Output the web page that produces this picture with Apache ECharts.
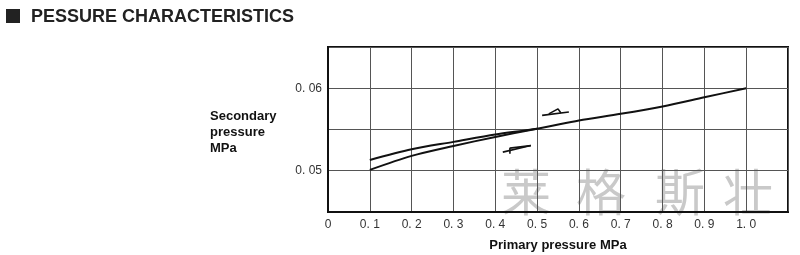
<!DOCTYPE html>
<html><head><meta charset="utf-8">
<script src="https://cdn.jsdelivr.net/npm/echarts@6/dist/echarts.min.js"></script>
<style>html,body{margin:0;padding:0;background:#fff}#c{width:800px;height:255px}</style>
</head><body><div id="c"></div>
<script>
// ---- data ----
const titleText = 'PESSURE CHARACTERISTICS';
const xName = 'Primary pressure MPa';
const yName = 'Secondary\npressure\nMPa';
const watermarkChars = ['莱', '格', '斯', '壮'];
const yTickLabels = [0.05, 0.06];
// decreasing branch (upper) and common part
const upperX = [0.1, 0.2, 0.3, 0.4, 0.5, 0.6, 0.7, 0.8, 0.9, 1.0];
const upperY = [0.0513, 0.0526, 0.0535, 0.0544, 0.0551, 0.0561, 0.0569, 0.0578, 0.0589, 0.0600];
// increasing branch (lower)
const lowerX = [0.1, 0.2, 0.3, 0.4, 0.5];
const lowerY = [0.0501, 0.0518, 0.0530, 0.0541, 0.0551];
// hysteresis direction markers (data coords)
const upArrowShaft = [[0.512, 0.05671], [0.576, 0.05713]];
const upArrowHead = [[0.528, 0.05689], [0.550, 0.05750], [0.557, 0.05701]];
const lowArrowShaft = [[0.418, 0.05226], [0.485, 0.05305]];
const lowArrowHead = [[0.435, 0.05207], [0.435, 0.05274], [0.485, 0.05305]];

const zip = (xs, ys) => xs.map((x, i) => [x, ys[i]]);
const fmtX = v => {
  if (v > 1.05) return '';
  if (Math.abs(v) < 1e-9) return '0';
  return v.toFixed(1).replace('.', '. ');
};
const fmtY = v => yTickLabels.some(t => Math.abs(t - v) < 1e-9) ? v.toFixed(2).replace('.', '. ') : '';

const chart = echarts.init(document.getElementById('c'), null, {renderer: 'canvas'});
const lineStyle = {color: '#111', width: 2};
const markStyle = {color: '#111', width: 1.6};
const mk = (data, ls, smooth) => ({
  type: 'line', data, symbol: 'none', smooth: smooth || false, lineStyle: ls,
  z: 5, silent: true, animation: false
});
const wmCenters = [526, 601, 680, 748];
chart.setOption({
  animation: false,
  backgroundColor: '#fff',
  graphic: [
    {type: 'rect', left: 6, top: 9, shape: {width: 14, height: 14}, style: {fill: '#222'}},
    {type: 'text', left: 31, top: 8, style: {text: titleText, font: 'bold 18px "Liberation Sans", Arial, sans-serif', fill: '#222'}},
    {type: 'text', left: 210, top: 108, style: {text: yName, font: 'bold 13px "Liberation Sans", Arial, sans-serif', fill: '#111', lineHeight: 16}}
  ].concat(watermarkChars.map((ch, i) => ({
    type: 'text', x: wmCenters[i], y: 192, z: -10,
    style: {text: ch, font: '50px "Noto Sans CJK SC"', fill: '#c9c9c9', align: 'center', verticalAlign: 'middle'}
  }))),
  grid: {left: 328, top: 47, width: 460, height: 165, outerBoundsMode: 'none', containLabel: false,
         show: true, borderColor: '#111', borderWidth: 2, backgroundColor: 'transparent'},
  xAxis: {
    type: 'value', min: 0, max: 1.1, interval: 0.1,
    name: xName, nameLocation: 'middle', nameGap: 27,
    nameTextStyle: {fontFamily: '"Liberation Sans", Arial, sans-serif', fontWeight: 'bold', fontSize: 13, color: '#111'},
    axisLine: {show: true, lineStyle: {color: '#111', width: 2}},
    axisTick: {show: false},
    axisLabel: {formatter: fmtX, color: '#333', fontSize: 12, fontFamily: '"Liberation Sans", Arial, sans-serif', margin: 7},
    splitLine: {show: true, lineStyle: {color: '#555', width: 1}}
  },
  yAxis: {
    type: 'value', min: 0.045, max: 0.065, interval: 0.005,
    axisLine: {show: true, lineStyle: {color: '#111', width: 2}},
    axisTick: {show: false},
    axisLabel: {formatter: fmtY, color: '#333', fontSize: 12, fontFamily: '"Liberation Sans", Arial, sans-serif', margin: 6},
    splitLine: {show: true, lineStyle: {color: '#555', width: 1}}
  },
  series: [
    mk(zip(upperX, upperY), lineStyle, 0.3),
    mk(zip(lowerX, lowerY), lineStyle, 0.3),
    mk(upArrowShaft, markStyle),
    mk(upArrowHead, markStyle),
    mk(lowArrowShaft, markStyle),
    mk(lowArrowHead, markStyle)
  ]
});
</script></body></html>
